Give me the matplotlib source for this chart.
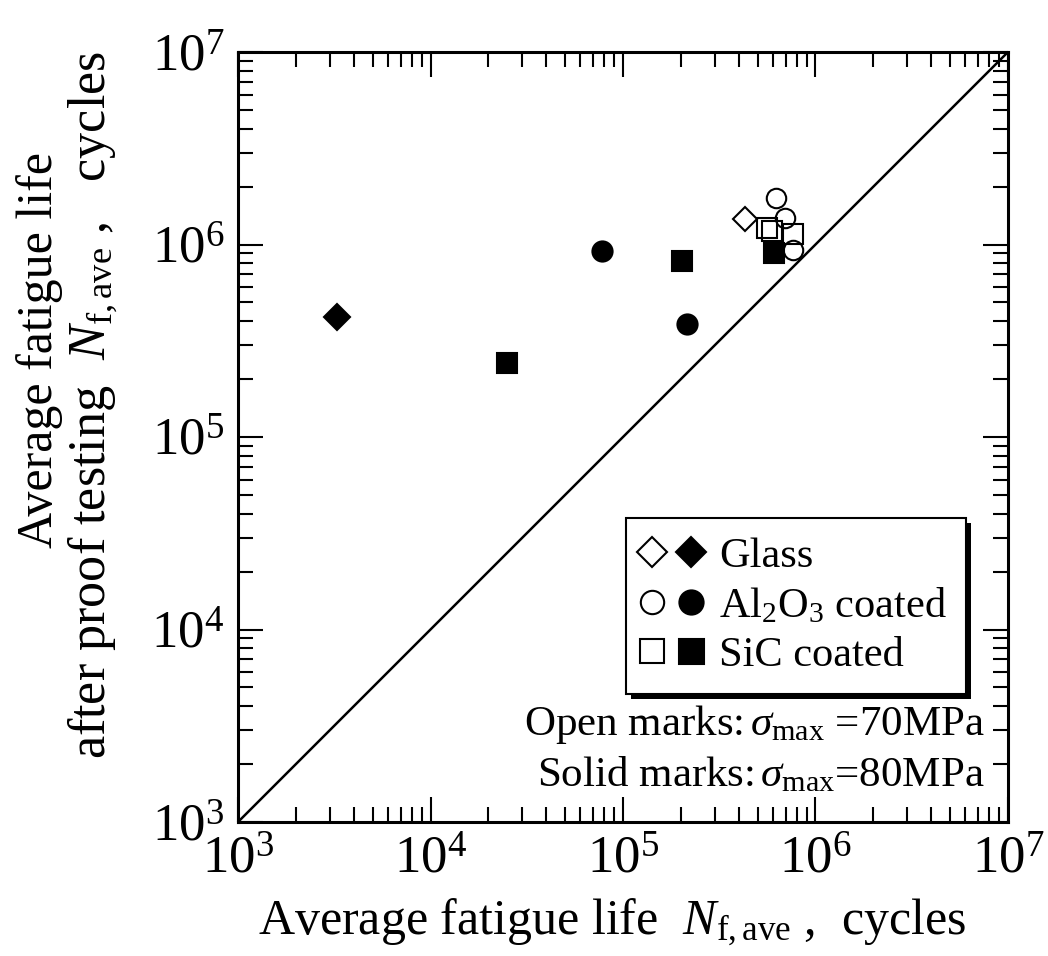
import matplotlib
matplotlib.use("Agg")
import matplotlib.pyplot as plt
import matplotlib.patheffects as pe
from matplotlib.legend_handler import HandlerTuple
from matplotlib.ticker import LogLocator, LogFormatterSciNotation, NullFormatter

plt.rcParams['font.family'] = ['Liberation Serif', 'DejaVu Serif']
plt.rcParams['mathtext.fontset'] = 'custom'
plt.rcParams['mathtext.rm'] = 'Liberation Serif'
plt.rcParams['mathtext.it'] = 'Liberation Serif:italic'
plt.rcParams['mathtext.bf'] = 'Liberation Serif:bold'

# ---- data (average fatigue life, before / after proof testing) ----
glass_open_x = [4.3e5]
glass_open_y = [1.35e6]
glass_solid_x = [3.26e3]
glass_solid_y = [4.2e5]

al_open_x = [6.2e5, 6.95e5, 7.67e5]
al_open_y = [1.74e6, 1.38e6, 9.4e5]
al_solid_x = [7.8e4, 2.16e5]
al_solid_y = [9.3e5, 3.86e5]

sic_open_x = [5.6e5, 5.95e5, 7.6e5]
sic_open_y = [1.22e6, 1.18e6, 1.14e6]
sic_solid_x = [2.49e4, 2.02e5, 6.08e5]
sic_solid_y = [2.42e5, 8.24e5, 9.0e5]

legend_labels = ["Glass", r"Al$_{2}$O$_{3}$ coated", "SiC coated"]
axis_min, axis_max = 1e3, 1e7

SERIF = 'Liberation Serif'

fig = plt.figure(figsize=(10.48, 9.56), dpi=100)
ax = fig.add_axes([238/1048, 1-822/956, 770/1048, 770/956])

# 1:1 line
ax.plot([axis_min, axis_max], [axis_min, axis_max], color='black', lw=1.8, zorder=1)

mew = 1.5
go, = ax.plot(glass_open_x, glass_open_y, 'D', ms=12.5, mfc='none', mec='black', mew=mew, zorder=3)
ao, = ax.plot(al_open_x, al_open_y, 'o', ms=14, mfc='none', mec='black', mew=mew, zorder=3)
so, = ax.plot(sic_open_x, sic_open_y, 's', ms=14.5, mfc='none', mec='black', mew=mew, zorder=3)
gs, = ax.plot(glass_solid_x, glass_solid_y, 'D', ms=13, mfc='black', mec='black', mew=mew, zorder=4)
as_, = ax.plot(al_solid_x, al_solid_y, 'o', ms=14.5, mfc='black', mec='black', mew=mew, zorder=4)
ss, = ax.plot(sic_solid_x, sic_solid_y, 's', ms=15, mfc='black', mec='black', mew=mew, zorder=4)

ax.set_xscale('log')
ax.set_yscale('log')
ax.set_xlim(axis_min, axis_max)
ax.set_ylim(axis_min, axis_max)

for axis in (ax.xaxis, ax.yaxis):
    axis.set_major_locator(LogLocator(base=10, numticks=10))
    axis.set_minor_locator(LogLocator(base=10, subs=range(2, 10), numticks=20))
    axis.set_major_formatter(LogFormatterSciNotation())
    axis.set_minor_formatter(NullFormatter())

ax.tick_params(which='both', direction='in', top=True, right=True, width=1.5, color='black')
ax.tick_params(which='major', length=18, labelsize=38, pad=10)
ax.tick_params(which='minor', length=10.5)
for s in ax.spines.values():
    s.set_linewidth(2.2)

# axis labels
ax.set_xlabel(r"Average fatigue life  $N_{\mathrm{f,ave}}$ ,  cycles", fontsize=36,
              fontfamily=SERIF)
ax.xaxis.set_label_coords((612-238)/770, (822-922)/770)
ax.xaxis.label.set_va('center')

fig.text(40/1048, 1-350/956, "Average fatigue life", rotation=90,
         ha='center', va='center', fontsize=36, fontfamily=SERIF)
fig.text(92/1048, 1-405/956, r"after proof testing  $N_{\mathrm{f,ave}}$ ,   cycles",
         rotation=90, ha='center', va='center', fontsize=37.5, fontfamily=SERIF)

# legend
leg = ax.legend(handles=[(go, gs), (ao, as_), (so, ss)], labels=legend_labels,
                handler_map={tuple: HandlerTuple(ndivide=None, pad=0.566)},
                loc='upper left', bbox_to_anchor=((626-238)/770, (822-518)/770),
                borderaxespad=0, frameon=True, fancybox=False, framealpha=1,
                edgecolor='black', prop={'family': SERIF, 'size': 30.5}, numpoints=1,
                markerscale=1.2,
                handlelength=1.257, handletextpad=0.5, labelspacing=0.25, borderpad=0.45)
leg.get_frame().set_linewidth(1.5)
leg.get_frame().set_path_effects([
    pe.SimplePatchShadow(offset=(3.5, -3.5), shadow_rgbFace='black', alpha=1.0),
    pe.Normal()])
leg.set_zorder(5)

ax.text((985-238)/770, (822-725)/770, r"Open marks:$\,\sigma_{\mathrm{max}}$ =70MPa",
        transform=ax.transAxes, ha='right', va='center', fontsize=31, fontfamily=SERIF)
ax.text((985-238)/770, (822-775)/770, r"Solid marks:$\,\sigma_{\mathrm{max}}$=80MPa",
        transform=ax.transAxes, ha='right', va='center', fontsize=31, fontfamily=SERIF)

fig.savefig('out.png', dpi=100)
